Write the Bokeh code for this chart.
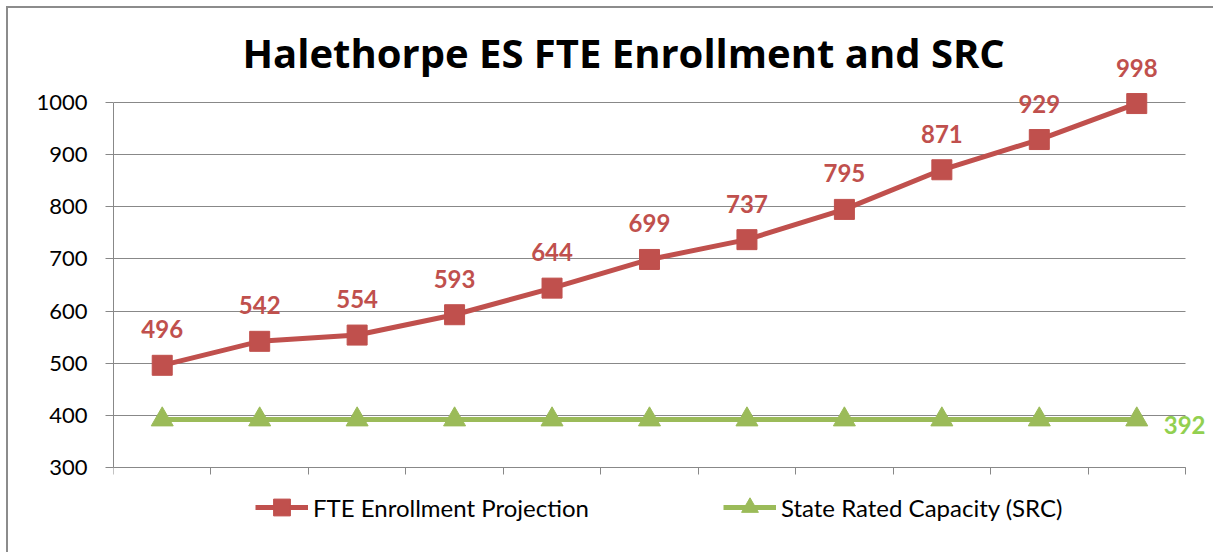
from bokeh.plotting import figure
from bokeh.models import (ColumnDataSource, Range1d, FixedTicker, LabelSet, Label,
                          Legend, LegendItem, CustomJSTickFormatter, Grid)
from bokeh.embed import file_html
from bokeh.resources import INLINE
from bokeh.core.properties import value

# ---- data ----
title_text = "Halethorpe ES FTE Enrollment and SRC"
x_index = [0, 1, 2, 3, 4, 5, 6, 7, 8, 9, 10]
fte_values = [496, 542, 554, 593, 644, 699, 737, 795, 871, 929, 998]
src_values = [392, 392, 392, 392, 392, 392, 392, 392, 392, 392, 392]
y_ticks = [300, 400, 500, 600, 700, 800, 900, 1000]
series_names = ["FTE Enrollment Projection", "State Rated Capacity (SRC)"]

RED = "#C0504D"
GREEN = "#9BBB59"
LABEL_GREEN = "#92D050"
GRAY = "#888888"
FONT = "Lato"

n = len(x_index)
xs = [i + 0.5 for i in x_index]
src = ColumnDataSource(dict(x=xs, fte=fte_values, srcv=src_values,
                            fte_txt=[str(v) for v in fte_values]))
last = ColumnDataSource(dict(x=[xs[-1]], y=[src_values[-1]], t=[str(src_values[-1])]))

# frame extends beyond the axes so that labels, title and legend are not clipped
p = figure(width=1207, height=546, output_backend="svg", toolbar_location=None,
           title=None,
           x_range=Range1d(0, n + 0.308), y_range=Range1d(181.1, 1180.3),
           min_border_left=105, min_border_right=0, min_border_top=0,
           min_border_bottom=25, background_fill_color="white",
           border_fill_color="white", outline_line_color=None,
           styles={"margin-left": "6px", "margin-top": "6px",
                   "border-top": "2px solid #8c8c8c", "border-left": "2px solid #8c8c8c"})

title = Label(x=129, y=477, x_units="screen", y_units="screen", text=title_text,
              text_font="Open Sans", text_font_size="40px", text_font_style="bold",
              text_color="black", text_align="left", text_baseline="alphabetic")
p.add_layout(title)

# axes
p.xaxis.fixed_location = 300
p.xaxis.ticker = FixedTicker(ticks=list(range(0, n + 1)))
p.xaxis.bounds = (0, n)
p.xaxis.formatter = CustomJSTickFormatter(code="return ''")
p.xaxis.major_label_text_font_size = "1px"
p.xaxis.axis_line_color = GRAY
p.xaxis.major_tick_line_color = GRAY
p.xaxis.major_tick_out = 7
p.xaxis.major_tick_in = 0
p.xaxis.minor_tick_line_color = None

p.yaxis.ticker = FixedTicker(ticks=y_ticks)
p.yaxis.bounds = (300, 1000)
p.yaxis.axis_line_color = GRAY
p.yaxis.major_tick_line_color = GRAY
p.yaxis.major_tick_out = 8
p.yaxis.major_tick_in = 0
p.yaxis.minor_tick_line_color = None
p.yaxis.major_label_standoff = 18
p.yaxis.major_label_text_font = FONT
p.yaxis.major_label_text_font_size = "22px"
p.yaxis.major_label_text_color = "black"

p.xgrid.grid_line_color = None
p.ygrid.ticker = FixedTicker(ticks=y_ticks)
p.ygrid.grid_line_color = GRAY
p.ygrid.grid_line_width = 1
if "cross_bounds" in Grid.properties():
    p.ygrid.cross_bounds = (0, n)
else:
    p.ygrid.grid_line_color = None
    p.segment(x0=[0] * len(y_ticks), x1=[n] * len(y_ticks), y0=y_ticks, y1=y_ticks,
              line_color=GRAY, line_width=1, level="underlay")

# series
l1 = p.line("x", "fte", source=src, line_color=RED, line_width=5)
m1 = p.scatter("x", "fte", source=src, marker="square", size=20,
               fill_color=RED, line_color=RED)
l2 = p.line("x", "srcv", source=src, line_color=GREEN, line_width=5)
m2 = p.scatter("x", "srcv", source=src, marker="triangle", size=22,
               fill_color=GREEN, line_color=GREEN)

labels = LabelSet(x="x", y="fte", text="fte_txt", source=src, y_offset=36,
                  text_align="center", text_baseline="middle",
                  text_font=value(FONT), text_font_size="24px",
                  text_font_style="bold", text_color=RED)
p.add_layout(labels)

lab2 = LabelSet(x="x", y="y", text="t", source=last, x_offset=27, y_offset=-5,
                text_align="left", text_baseline="middle",
                text_font=value(FONT), text_font_size="24px",
                text_font_style="bold", text_color=LABEL_GREEN)
p.add_layout(lab2)

legend = Legend(items=[LegendItem(label=series_names[0], renderers=[l1, m1]),
                       LegendItem(label=series_names[1], renderers=[l2, m2])],
                orientation="horizontal", location=(142, 1),
                glyph_width=53, glyph_height=42, label_standoff=5, spacing=134,
                padding=0, margin=0, border_line_color=None,
                background_fill_color=None, background_fill_alpha=0,
                label_text_font=FONT, label_text_font_size="24px",
                label_text_color="black", label_height=20)
p.add_layout(legend)

open("out.html", "w").write(file_html(p, INLINE))
